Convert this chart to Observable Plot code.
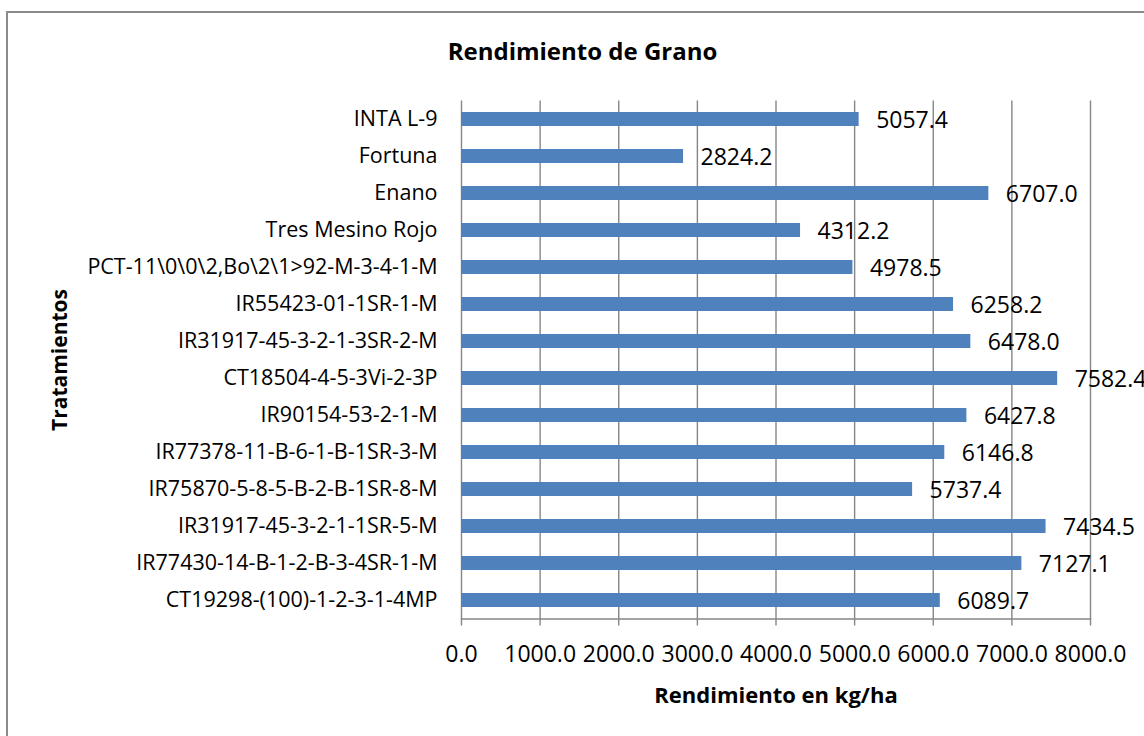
<!DOCTYPE html>
<html>
<head>
<meta charset="utf-8">
<script src="https://cdn.jsdelivr.net/npm/d3@7"></script>
<script src="https://cdn.jsdelivr.net/npm/@observablehq/plot@0.6"></script>
<style>
  html, body { margin: 0; padding: 0; background: #fff; overflow: hidden; }
  #wrap { position: relative; width: 1144px; height: 736px; overflow: hidden; font-family: 'Open Sans', sans-serif; }
  #border { position: absolute; left: 6px; top: 11px; width: 1200px; height: 800px; border: 2px solid #8a8a8a; box-sizing: border-box; }
  #chart { position: absolute; left: 0; top: 0; }
</style>
</head>
<body>
<div id="wrap">
  <div id="border"></div>
  <div id="chart"></div>
</div>
<script>
const tratamientos = [
  "INTA L-9",
  "Fortuna",
  "Enano",
  "Tres Mesino Rojo",
  "PCT-11\\0\\0\\2,Bo\\2\\1>92-M-3-4-1-M",
  "IR55423-01-1SR-1-M",
  "IR31917-45-3-2-1-3SR-2-M",
  "CT18504-4-5-3Vi-2-3P",
  "IR90154-53-2-1-M",
  "IR77378-11-B-6-1-B-1SR-3-M",
  "IR75870-5-8-5-B-2-B-1SR-8-M",
  "IR31917-45-3-2-1-1SR-5-M",
  "IR77430-14-B-1-2-B-3-4SR-1-M",
  "CT19298-(100)-1-2-3-1-4MP"
];
const rendimiento = [5057.4, 2824.2, 6707.0, 4312.2, 4978.5, 6258.2, 6478.0, 7582.4, 6427.8, 6146.8, 5737.4, 7434.5, 7127.1, 6089.7];
const xTicks = [0, 1000, 2000, 3000, 4000, 5000, 6000, 7000, 8000];
const titulo = "Rendimiento de Grano";
const tituloX = "Rendimiento en kg/ha";
const tituloY = "Tratamientos";

const data = tratamientos.map((name, i) => ({name, value: rendimiento[i]}));

const grid = "#868686";

const chart = Plot.plot({
  width: 1144,
  height: 736,
  marginLeft: 461,
  marginRight: 54,
  marginTop: 100.5,
  marginBottom: 117.5,
  style: {fontFamily: "'Open Sans', sans-serif", background: "transparent", color: "black"},
  x: {domain: [0, 8000]},
  y: {domain: tratamientos, paddingInner: 0.62, paddingOuter: 0.31},
  marks: [
    Plot.gridX(xTicks, {stroke: grid, strokeOpacity: 1, strokeWidth: 1.4}),
    Plot.frame({anchor: "bottom", stroke: grid, strokeWidth: 1.4}),
    Plot.barX(data, {x: "value", y: "name", fill: "#4F81BD"}),
    Plot.text(data, {x: "value", y: "name", text: d => d.value.toFixed(1), textAnchor: "start", dx: 17, dy: 1, fontSize: 23, fill: "black"}),
    Plot.axisX(xTicks, {tickFormat: d => d.toFixed(1), tickSize: 7, tickPadding: 20, fontSize: 23, stroke: grid, strokeWidth: 1.4, fill: "black", label: null}),
    Plot.axisY({tickSize: 0, tickPadding: 24, fontSize: 21.5, fill: "black", label: null}),
    Plot.text([titulo], {frameAnchor: "top", dx: -193.5, dy: -48.5, fontSize: 24, fontWeight: "bold", fill: "black", lineAnchor: "middle"}),
    Plot.text([tituloX], {frameAnchor: "bottom", dy: 76.5, fontSize: 22, fontWeight: "bold", fill: "black", lineAnchor: "middle"}),
    Plot.text([tituloY], {frameAnchor: "left", dx: -401, rotate: -90, textAnchor: "middle", fontSize: 21, fontWeight: "bold", fill: "black", lineAnchor: "middle"})
  ]
});
document.getElementById("chart").appendChild(chart);
</script>
</body>
</html>
